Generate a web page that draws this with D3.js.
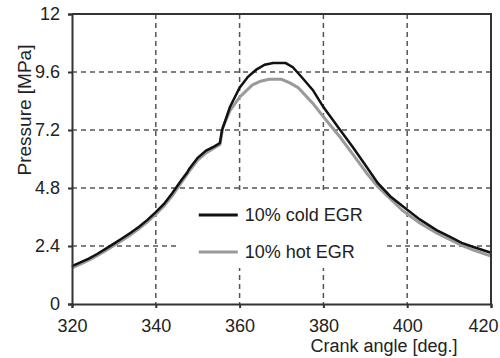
<!DOCTYPE html>
<html>
<head>
<meta charset="utf-8">
<script src="https://cdn.jsdelivr.net/npm/d3@7"></script>
<style>
  body { margin: 0; background: #fff; }
  text { font-family: "Liberation Sans", Arial, sans-serif; fill: #222; }
</style>
</head>
<body>
<div id="chart"></div>
<script>
(function(){

  // crank angle in degrees, pressure in MPa
  let coldAngle = [320, 322, 324, 326, 328, 330, 332, 334, 336, 338, 340, 342, 344, 345, 346, 347.4, 348, 350, 352, 354, 355.3,
                   355.8, 357.7, 360, 362, 364, 366, 368, 371, 372.7, 375, 377.5, 380, 384, 387, 390, 393, 396, 400, 403, 407, 410, 413, 416, 420];
  let coldPressure = [1.57, 1.72, 1.88, 2.07, 2.28, 2.5, 2.72, 2.95, 3.2, 3.48, 3.8, 4.15, 4.6, 4.85, 5.1, 5.42, 5.6, 6.05, 6.35, 6.52, 6.66,
                      7.2, 8.15, 8.95, 9.4, 9.7, 9.9, 9.97, 9.97, 9.8, 9.35, 8.85, 8.15, 7.2, 6.5, 5.75, 5.0, 4.45, 3.9, 3.5, 3.06, 2.8, 2.53, 2.35, 2.12];

  let hotAngle = [320, 322, 324, 326, 328, 330, 332, 334, 336, 338, 340, 342, 344, 346, 348, 350, 352, 354, 355.3,
                  356, 357.7, 360, 363, 365, 367, 370, 372, 374, 377.5, 380, 384, 387, 390.4, 393, 396, 399, 403, 407, 410, 413, 416, 420];
  let hotPressure = [1.5, 1.65, 1.81, 2.0, 2.2, 2.42, 2.64, 2.87, 3.12, 3.4, 3.72, 4.07, 4.5, 5.0, 5.5, 5.95, 6.25, 6.47, 6.6,
                     7.3, 8.0, 8.56, 9.06, 9.22, 9.3, 9.3, 9.15, 8.95, 8.3, 7.75, 6.9, 6.2, 5.4, 4.85, 4.35, 3.85, 3.35, 2.94, 2.68, 2.43, 2.22, 1.98];

  let xTicks = [320, 340, 360, 380, 400, 420];
  let yTicks = [0, 2.4, 4.8, 7.2, 9.6, 12];
  let seriesNames = ["10% cold EGR", "10% hot EGR"];
  let seriesColors = ["#111", "#9a9a9a"];

  let width = 500;
  let height = 358;
  let margin = { top: 14, right: 9, bottom: 54, left: 72 };
  let w = width - margin.left - margin.right;
  let h = height - margin.top - margin.bottom;

  let svg = d3.select('#chart')
            .append("svg")
            .attr("width", width)
            .attr("height", height)
            .append("g")
            .attr("transform", "translate(" + margin.left + "," + margin.top + ")");

  let x = d3.scaleLinear().domain([320, 420]).range([0, w]);
  let y = d3.scaleLinear().domain([0, 12]).range([h, 0]);

  // dashed grid, only the inner lines
  svg.selectAll(".vgrid")
    .data(xTicks.slice(1, -1))
    .enter()
    .append("line")
      .attr("x1", d => x(d)).attr("x2", d => x(d))
      .attr("y1", 0).attr("y2", h)
      .attr("stroke", "#555")
      .attr("stroke-width", 1.5)
      .attr("stroke-dasharray", "5,4");

  svg.selectAll(".hgrid")
    .data(yTicks.slice(1, -1))
    .enter()
    .append("line")
      .attr("x1", 0).attr("x2", w)
      .attr("y1", d => y(d)).attr("y2", d => y(d))
      .attr("stroke", "#555")
      .attr("stroke-width", 1.5)
      .attr("stroke-dasharray", "5,4");

  // legend box covers the grid
  let legend = svg.append("g").attr("transform", "translate(" + x(345) + "," + (y(4.8) + 6) + ")");
  legend.append("rect")
    .attr("x", 0).attr("y", 0)
    .attr("width", 208).attr("height", 74)
    .attr("fill", "#fff");

  seriesNames.forEach(function(name, i){
    let ly = 21 + i * 37;
    legend.append("line")
      .attr("x1", 22).attr("x2", 61)
      .attr("y1", ly).attr("y2", ly)
      .attr("stroke", seriesColors[i])
      .attr("stroke-width", 3);
    legend.append("text")
      .attr("x", 68).attr("y", ly + 6)
      .style("font-size", "18px")
      .text(name);
  });

  let line = d3.line().x(d => x(d[0])).y(d => y(d[1]));

  // hot first so the cold line sits on top
  svg.append("path")
    .datum(d3.zip(hotAngle, hotPressure))
    .attr("d", line)
    .attr("fill", "none")
    .attr("stroke", seriesColors[1])
    .attr("stroke-width", 3);

  svg.append("path")
    .datum(d3.zip(coldAngle, coldPressure))
    .attr("d", line)
    .attr("fill", "none")
    .attr("stroke", seriesColors[0])
    .attr("stroke-width", 2.5);

  // axes
  let xAxis = svg.append("g")
    .attr("transform", "translate(0," + h + ")")
    .call(d3.axisBottom(x).tickValues(xTicks).tickSize(4).tickPadding(11));

  let yAxis = svg.append("g")
    .call(d3.axisLeft(y).tickValues(yTicks).tickFormat(d => String(d)).tickSize(4).tickPadding(8));

  [xAxis, yAxis].forEach(function(a){
    a.select(".domain").attr("stroke", "#333").attr("stroke-width", 2);
    a.selectAll(".tick line").attr("stroke", "#333").attr("stroke-width", 2);
    a.selectAll(".tick text").style("font-size", "18px").attr("fill", "#222")
      .style("font-family", "'Liberation Sans', Arial, sans-serif");
  });

  // last label is pulled in so it fits inside the picture
  xAxis.selectAll(".tick text").filter(d => d === 420).attr("x", -8);

  // top and right frame
  svg.append("path")
    .attr("d", "M0,0H" + w + "V" + h)
    .attr("fill", "none")
    .attr("stroke", "#333")
    .attr("stroke-width", 2);

  svg.append("text")
    .attr("x", 312)
    .attr("y", h + 48)
    .attr("text-anchor", "middle")
    .style("font-size", "18px")
    .text("Crank angle [deg.]");

  svg.append("text")
    .attr("transform", "translate(" + (31 - margin.left) + "," + (110 - margin.top) + ") rotate(-90)")
    .attr("text-anchor", "middle")
    .style("font-size", "19px")
    .text("Pressure [MPa]");

})();
</script>
</body>
</html>
